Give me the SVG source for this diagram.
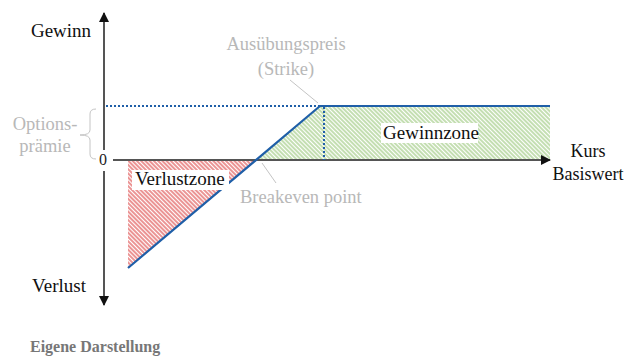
<svg xmlns="http://www.w3.org/2000/svg" width="625" height="356" viewBox="0 0 625 356">
<defs>
<style>
.axis{stroke:#555;stroke-width:2;fill:none}
.blue{stroke:#1f5fa8;stroke-width:2.2;fill:none}
.dot{stroke:#1f5fa8;stroke-width:2;fill:none;stroke-dasharray:2 2}
.lead{stroke:#c4c4c4;stroke-width:1;fill:none}
</style>
<pattern id="hr" patternUnits="userSpaceOnUse" width="3" height="10" patternTransform="rotate(-45)">
<line x1="1" y1="0" x2="1" y2="10" stroke="#e05a5a" stroke-width="1.3"/>
</pattern>
<pattern id="hg" patternUnits="userSpaceOnUse" width="3" height="10" patternTransform="rotate(-45)">
<line x1="1" y1="0" x2="1" y2="10" stroke="#a4cd88" stroke-width="1.3"/>
</pattern>
<marker id="ah" markerWidth="10" markerHeight="10" refX="9" refY="5" orient="auto" markerUnits="userSpaceOnUse">
<path d="M0,0 L10,5 L0,10 z" fill="#111"/>
</marker>
</defs>
<rect width="625" height="356" fill="#fff"/>
<g id="zones">
<polygon points="128,161 256,161 128,268" fill="url(#hr)"/>
<polygon points="256,160 320,106 550,106 550,160" fill="url(#hg)"/>
</g>
<g id="connectors">
<line class="axis" x1="104" y1="150" x2="104" y2="13" marker-end="url(#ah)"/>
<line class="axis" x1="104" y1="171" x2="104" y2="305" marker-end="url(#ah)"/>
<line class="axis" x1="113" y1="160" x2="550" y2="160" marker-end="url(#ah)"/>
<line class="dot" x1="106" y1="106" x2="320" y2="106"/>
<line class="dot" x1="324" y1="107" x2="324" y2="160"/>
<polyline class="blue" points="128,268 320,106 550,106"/>
<line class="lead" x1="290" y1="80" x2="318" y2="103"/>
<line class="lead" x1="262" y1="163" x2="276" y2="183"/>
<path class="lead" d="M96,109 Q90,109 90,114 L90,130 Q90,135 80,135 Q90,135 90,140 L90,154 Q90,159 96,159"/>
</g>
<g id="gewinnzone">
<rect x="381" y="123" width="97" height="20" fill="#fff"/>
<text font-family="Liberation Serif" font-size="19" fill="#111" x="383" y="139">Gewinnzone</text>
</g>
<g id="verlustzone">
<rect x="132" y="170" width="97" height="20" fill="#fff"/>
<text font-family="Liberation Serif" font-size="19" fill="#111" x="135" y="185">Verlustzone</text>
</g>
<g id="labels">
<text font-family="Liberation Serif" font-size="19" fill="#111" x="61" y="37" text-anchor="middle">Gewinn</text>
<text font-family="Liberation Serif" font-size="19" fill="#111" x="59" y="292" text-anchor="middle">Verlust</text>
<text font-family="Liberation Serif" font-size="18" fill="#111" x="588" y="157" text-anchor="middle">Kurs</text>
<text font-family="Liberation Serif" font-size="18" fill="#111" x="588" y="180" text-anchor="middle">Basiswert</text>
<text font-family="Liberation Serif" font-size="16" fill="#222" x="103" y="165" text-anchor="middle">0</text>
<text font-family="Liberation Serif" font-size="18.5" fill="#b8b8b8" x="45" y="130" text-anchor="middle">Options-</text>
<text font-family="Liberation Serif" font-size="18.5" fill="#b8b8b8" x="45" y="152" text-anchor="middle">pr&#228;mie</text>
<text font-family="Liberation Serif" font-size="18.5" fill="#b8b8b8" x="286" y="50" text-anchor="middle">Aus&#252;bungspreis</text>
<text font-family="Liberation Serif" font-size="18.5" fill="#b8b8b8" x="286" y="75" text-anchor="middle">(Strike)</text>
<text font-family="Liberation Serif" font-size="18.5" fill="#b8b8b8" x="240" y="203">Breakeven point</text>
<text font-family="Liberation Serif" font-size="16" font-weight="bold" fill="#777" x="30" y="352">Eigene Darstellung</text>
</g>
</svg>
